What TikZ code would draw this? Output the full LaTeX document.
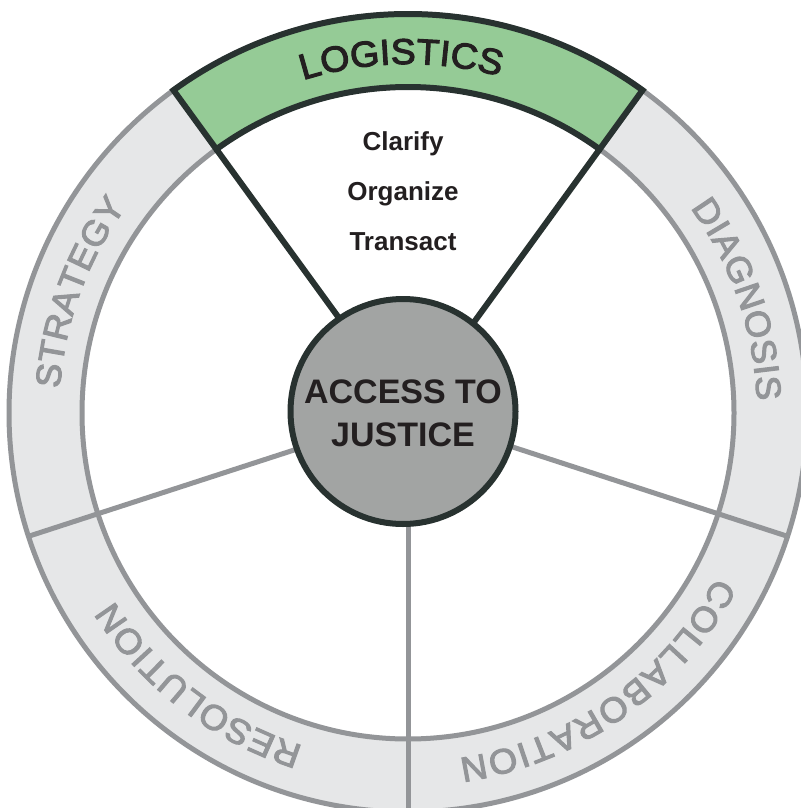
\documentclass[tikz,border=0pt]{standalone}
\usepackage{fontspec}
\setmainfont{Liberation Sans}
\newfontfamily\ringfam[FakeBold=3,FakeStretch=1.04]{Liberation Sans}
\usetikzlibrary{decorations.text}
\definecolor{ringgray}{HTML}{939598}
\definecolor{ringfill}{HTML}{E6E7E8}
\definecolor{darkline}{HTML}{283230}
\definecolor{logigreen}{HTML}{95CB96}
\definecolor{hubfill}{HTML}{A2A4A3}
\definecolor{inktext}{HTML}{231F20}
\newcommand{\grayringfont}{\ringfam\fontsize{35}{40}\selectfont\color{ringgray}}
\newcommand{\darkringfont}{\ringfam\fontsize{36}{42}\selectfont\color{inktext}}
\begin{document}
\begin{tikzpicture}[x=1pt,y=1pt,
  ringline/.style={draw=ringgray,line width=5pt},
  darkedge/.style={draw=darkline,line width=6pt},
  ringlabel/.style={decorate,decoration={text along path,text align=fit to path,text={#1}}},
  hubtext/.style={anchor=base,text=inktext,font=\fontsize{34}{40}\selectfont\bfseries},
  steptext/.style={anchor=base,text=inktext,font=\fontsize{26}{30}\selectfont\bfseries}]
\useasboundingbox (0,-808) rectangle (800,0);
\fill[white] (0,-808) rectangle (800,0);
\coordinate (W) at (408,-413);
\begin{scope}[shift={(408,-413)}]
  \coordinate (o198) at (198:399);
  \coordinate (o270) at (270:399);
  \coordinate (o342) at (342:399);
  \coordinate (i54) at (54:326);
  \coordinate (i126) at (126:326);
  \fill[ringfill,even odd rule] (0,0) circle[radius=399] (0,0) circle[radius=326];
  \draw[ringline] (0,0) circle[radius=399];
  \draw[ringline] (0,0) circle[radius=326];
  \draw[darkedge,fill=logigreen] (54:326) -- (54:399) arc[start angle=54,end angle=126,radius=399] -- (126:326) arc[start angle=126,end angle=54,radius=326] -- cycle;
  \path[ringlabel={|\darkringfont|LOGISTICS}] (107.5:349) arc[start angle=107.5,end angle=75,radius=349];
  \path[ringlabel={|\grayringfont|DIAGNOSIS}] (36:349) arc[start angle=36,end angle=2,radius=349];
  \path[ringlabel={|\grayringfont|COLLABORATION}] (332:349) arc[start angle=332,end angle=278.4,radius=349];
  \path[ringlabel={|\grayringfont|RESOLUTION}] (252.5:349) arc[start angle=252.5,end angle=212.5,radius=349];
  \path[ringlabel={|\grayringfont|STRATEGY}] (176:349) arc[start angle=176,end angle=144.5,radius=349];
\end{scope}
\draw[ringline] (W) -- (o198);
\draw[ringline] (W) -- (o270);
\draw[ringline] (W) -- (o342);
\draw[darkedge] (W) -- (i54);
\draw[darkedge] (W) -- (i126);
\node[circle,draw=darkline,line width=6pt,fill=hubfill,minimum size=225pt,inner sep=0pt] (hub) at (403,-411.5) {};
\node[hubtext] (access) at (403,-403) {ACCESS TO};
\node[hubtext] (justice) at (403,-446) {JUSTICE};
\node[steptext] (clarify) at (403,-150) {Clarify};
\node[steptext] (organize) at (403,-200) {Organize};
\node[steptext] (transact) at (403,-250) {Transact};
\end{tikzpicture}
\end{document}
